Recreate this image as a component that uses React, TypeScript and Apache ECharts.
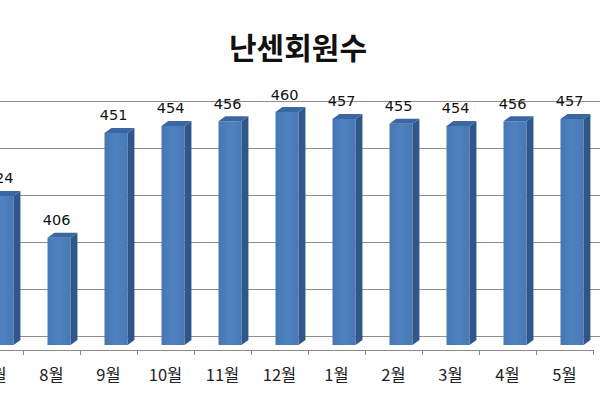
import React, { useEffect, useRef } from "react";
import * as echarts from "echarts";

const title = "난센회원수";
const months = ["7월", "8월", "9월", "10월", "11월", "12월", "1월", "2월", "3월", "4월", "5월"];
const members = [424, 406, 451, 454, 456, 460, 457, 455, 454, 456, 457];
const axisMin = 360;
const axisMax = 460;
const axisStep = 20;

const SHIFT = 34;

export default function App() {
  const ref = useRef<HTMLDivElement>(null);
  useEffect(() => {
    const chart = echarts.init(ref.current!, null, { renderer: "svg" });
    const data = members.map((v, i) => [i, v]);
    chart.setOption({
      animation: false,
      backgroundColor: "#ffffff",
      title: {
        text: title,
        left: 258,
        top: 26,
        textStyle: {
          fontFamily: "Noto Sans CJK KR",
          fontSize: 30,
          fontWeight: "bold",
          color: "#111111",
        },
      },
      grid: [
        { left: SHIFT, right: 0, top: 101, bottom: 64 },
        { left: 0, right: 7, top: 112, bottom: 55 },
      ],
      xAxis: [
        {
          gridIndex: 0,
          type: "value",
          show: false,
          min: 0,
          max: 1,
        },
        {
          gridIndex: 1,
          type: "category",
          data: months,
          offset: 5,
          axisLine: { show: true, lineStyle: { color: "#8a8a8a", width: 1 } },
          axisTick: { show: true, length: 5, lineStyle: { color: "#8a8a8a" } },
          axisLabel: {
            margin: 16,
            fontFamily: "Noto Sans CJK KR",
            fontSize: 16.5,
            color: "#222222",
          },
        },
      ],
      yAxis: [
        {
          gridIndex: 0,
          type: "value",
          min: axisMin,
          max: axisMax,
          interval: axisStep,
          axisLine: { show: false },
          axisTick: { show: false },
          axisLabel: { show: false },
          splitLine: { show: true, lineStyle: { color: "#8e8e8e", width: 1 } },
        },
        {
          gridIndex: 1,
          type: "value",
          min: axisMin,
          max: axisMax,
          show: false,
          splitLine: { show: false },
        },
      ],
      series: [
        {
          type: "custom",
          xAxisIndex: 1,
          yAxisIndex: 1,
          clip: false,
          data,
          renderItem: (params: any, api: any) => {
            const idx = api.value(0);
            const v = api.value(1);
            const top = api.coord([idx, v]);
            const base = api.coord([idx, axisMin]);
            const bw = api.size([1, 0])[0];
            const cx = top[0];
            const x0 = cx - 0.07 * bw;
            const x1 = cx + 0.335 * bw;
            const dx = 0.12 * bw;
            const dy = 5;
            const yt = top[1];
            const yb = base[1];
            return {
              type: "group",
              children: [
                {
                  type: "rect",
                  shape: { x: x0, y: yt, width: x1 - x0, height: yb - yt },
                  style: {
                    fill: new echarts.graphic.LinearGradient(0, 0, 1, 0, [
                      { offset: 0, color: "#4677b5" },
                      { offset: 0.5, color: "#4f82c0" },
                      { offset: 1, color: "#4878b5" },
                    ]),
                  },
                },
                {
                  type: "polygon",
                  shape: {
                    points: [
                      [x1, yt],
                      [x1 + dx, yt - dy],
                      [x1 + dx, yb - dy],
                      [x1, yb],
                    ],
                  },
                  style: { fill: "#2f5789" },
                },
                {
                  type: "polygon",
                  shape: {
                    points: [
                      [x0, yt],
                      [x0 + dx, yt - dy],
                      [x1 + dx, yt - dy],
                      [x1, yt],
                    ],
                  },
                  style: { fill: "#3a66a1" },
                },
                {
                  type: "text",
                  style: {
                    x: cx + 0.09 * bw,
                    y: yt - dy - 5,
                    text: String(v),
                    align: "center",
                    verticalAlign: "bottom",
                    fontFamily: "DejaVu Sans",
                    fontSize: 14.5,
                    fill: "#111111",
                  },
                },
              ],
            };
          },
        },
      ],
    });
    return () => chart.dispose();
  }, []);
  return (
    <div style={{ position: "fixed", left: 0, top: 0, width: 600, height: 400, overflow: "hidden" }}>
      <div
        ref={ref}
        style={{ position: "absolute", left: -SHIFT, top: 0, width: 600 + SHIFT, height: 400 }}
      />
    </div>
  );
}
